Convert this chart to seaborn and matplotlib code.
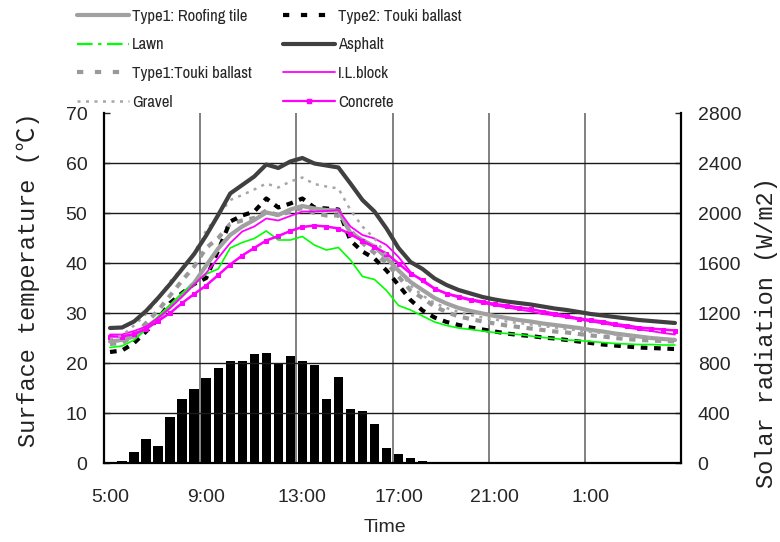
import matplotlib
matplotlib.use("Agg")
import matplotlib.pyplot as plt
from matplotlib.lines import Line2D
from matplotlib import font_manager
import numpy as np
import pandas as pd
import seaborn as sns

# ---------------- data ----------------
times = [f"{(5 + k // 2) % 24}:{'00' if k % 2 == 0 else '30'}" for k in range(48)]
tick_labels = ["5:00", "9:00", "13:00", "17:00", "21:00", "1:00"]

solar = [0, 15, 85, 190, 133, 365, 510, 590, 677, 757, 813, 813, 869, 877, 795, 853,
         813, 784, 509, 685, 429, 413, 309, 122, 72, 40, 19, 0, 0, 0, 0, 0,
         0, 0, 0, 0, 0, 0, 0, 0, 0, 0, 0, 0, 0, 0, 0, 0]

roofing_tile = [24.3, 24.6, 25.3, 27.1, 28.9, 31.3, 33.6, 36.0, 39.5, 42.9, 45.6, 47.3,
                48.6, 50.1, 49.6, 50.7, 51.4, 50.9, 50.6, 50.5, 46.0, 44.6, 43.3, 41.0,
                38.5, 36.2, 34.6, 33.0, 31.9, 31.0, 30.4, 29.9, 29.4, 29.0, 28.6, 28.3,
                27.9, 27.6, 27.3, 27.0, 26.6, 26.3, 25.9, 25.6, 25.3, 25.0, 24.8, 24.6]

type2_touki = [22.2, 22.5, 24.0, 26.3, 28.8, 32.0, 34.0, 35.8, 37.0, 42.5, 48.3, 49.5,
               50.3, 52.9, 51.1, 51.9, 52.9, 51.1, 50.9, 50.7, 44.5, 42.3, 40.9, 38.5,
               35.6, 32.6, 30.5, 29.1, 28.2, 27.6, 27.1, 26.7, 26.3, 25.9, 25.6, 25.4,
               25.1, 24.9, 24.6, 24.3, 24.0, 23.7, 23.5, 23.3, 23.1, 23.0, 22.9, 22.8]

lawn = [23.1, 23.4, 24.6, 26.7, 29.3, 31.6, 34.0, 35.8, 37.8, 38.8, 43.0, 44.1,
        44.9, 46.4, 44.6, 44.6, 45.3, 43.6, 42.6, 43.1, 40.6, 37.3, 36.7, 34.5,
        31.5, 30.6, 29.4, 28.2, 27.5, 27.0, 26.7, 26.4, 26.1, 25.9, 25.7, 25.4,
        25.1, 24.9, 24.6, 24.5, 24.3, 24.1, 23.9, 23.8, 23.7, 23.7, 23.6, 23.6]

asphalt = [27.0, 27.1, 28.3, 30.4, 33.0, 35.8, 38.8, 41.8, 45.5, 49.6, 53.9, 55.6,
           57.3, 59.7, 59.0, 60.3, 61.0, 59.9, 59.5, 59.1, 55.9, 52.6, 50.3, 46.9,
           43.0, 40.2, 38.8, 36.9, 35.6, 34.6, 33.9, 33.2, 32.7, 32.3, 32.0, 31.7,
           31.3, 30.9, 30.6, 30.2, 29.8, 29.5, 29.2, 28.9, 28.6, 28.4, 28.2, 28.0]

type1_touki = [23.8, 24.0, 25.5, 28.0, 30.5, 33.5, 36.5, 39.3, 43.0, 45.0, 47.8, 48.5,
               49.0, 50.5, 49.5, 50.3, 51.0, 50.0, 49.5, 49.5, 46.5, 44.0, 42.0, 40.0,
               37.3, 34.5, 33.0, 31.3, 30.2, 29.3, 28.8, 28.3, 27.9, 27.5, 27.2, 26.9,
               26.6, 26.3, 26.1, 25.8, 25.5, 25.3, 25.0, 24.8, 24.6, 24.5, 24.4, 24.3]

il_block = [25.7, 25.7, 26.4, 27.3, 29.0, 31.0, 33.3, 35.7, 38.0, 41.0, 44.0, 46.3,
            47.3, 48.9, 48.5, 49.4, 50.3, 50.3, 50.4, 50.6, 47.3, 45.6, 44.9, 43.6,
            41.2, 38.2, 36.3, 34.8, 33.8, 33.1, 32.5, 32.0, 31.5, 31.1, 30.7, 30.3,
            29.8, 29.5, 29.1, 28.7, 28.3, 27.9, 27.5, 27.1, 26.7, 26.4, 26.0, 25.7]

gravel = [24.8, 25.5, 27.5, 29.8, 32.8, 36.3, 39.0, 42.0, 46.5, 49.5, 52.6, 53.6,
          54.7, 55.9, 55.1, 56.3, 57.1, 55.8, 55.3, 54.9, 50.6, 47.3, 44.9, 41.5,
          38.5, 35.5, 33.5, 32.0, 31.0, 30.2, 29.6, 29.1, 28.7, 28.3, 28.0, 27.7,
          27.4, 27.1, 26.8, 26.5, 26.2, 26.0, 25.7, 25.5, 25.3, 25.1, 24.9, 24.8]

concrete = [25.3, 25.3, 25.8, 26.8, 28.4, 30.0, 32.0, 33.8, 35.5, 37.6, 39.7, 41.5,
            43.0, 44.5, 45.4, 46.4, 47.2, 47.5, 47.3, 46.9, 45.8, 44.4, 43.2, 41.9,
            39.9, 37.9, 36.6, 34.9, 33.9, 33.3, 32.7, 32.3, 31.8, 31.5, 31.1, 30.8,
            30.3, 29.9, 29.4, 28.9, 28.6, 28.3, 27.8, 27.5, 27.1, 26.9, 26.7, 26.5]

# ---------------- style ----------------
sns.set_style("white")
sans = "Liberation Sans"
plt.rcParams["font.family"] = [sans, "DejaVu Sans"]

# look for an Arial-Narrow-like font for the legend
narrow_path = None
for f in font_manager.fontManager.ttflist:
    nm = f.name.lower()
    if "narrow" in nm and f.style == "normal" and f.weight in (400, "normal", "regular"):
        narrow_path = f.fname
        break

W, H = 780, 542
fig = plt.figure(figsize=(W / 100, H / 100), dpi=100)
L, R, T, B = 104, 681, 113, 463
ax = fig.add_axes([L / W, 1 - B / H, (R - L) / W, (B - T) / H])
ax2 = ax.twinx()

idx = np.arange(len(times))
df = pd.DataFrame({"idx": idx, "time": times, "solar": solar})

# bars (solar radiation, right axis)
sns.barplot(data=df, x="idx", y="solar", ax=ax2, color="black", width=0.78,
            saturation=1, native_scale=True, edgecolor="none", linewidth=0)

ax.set_zorder(ax2.get_zorder() + 1)
ax.patch.set_visible(False)

series = [
    (type1_touki, dict(color="#999999", lw=3.0, ls=(0, (1.5, 1.6)))),
    (type2_touki, dict(color="black", lw=3.0, ls=(0, (1.6, 1.6)))),
    (roofing_tile, dict(color="#a0a0a0", lw=3.0, ls="-")),
    (lawn, dict(color="#00ff00", lw=1.2, ls="-")),
    (concrete, dict(color="#ff00ff", lw=1.8, ls="-", marker="s", ms=3.4, mec="#ff00ff")),
    (il_block, dict(color="#ff00ff", lw=1.3, ls="-")),
    (gravel, dict(color="#a6a6a6", lw=1.8, ls=(0, (1.2, 2.2)))),
    (asphalt, dict(color="#404040", lw=3.0, ls="-")),
]
for vals, kw in series:
    sns.lineplot(x=idx, y=vals, ax=ax, errorbar=None, sort=False, **kw)

# axes limits / ticks
ax.set_xlim(-0.5, len(times) - 0.5)
ax2.set_xlim(-0.5, len(times) - 0.5)
ax.set_ylim(0, 70)
ax2.set_ylim(0, 2800)

tick_pos = [times.index(t) for t in tick_labels]
ax.set_xticks(tick_pos)
ax.set_xticks([p - 0.5 for p in tick_pos[1:]], minor=True)
ax.set_yticks(range(0, 71, 10))
ax2.set_yticks(range(0, 2801, 400))
for a in (ax, ax2):
    a.set_xlabel("")
    a.set_ylabel("")

ax.xaxis.grid(True, which="minor", color="#808080", lw=1.4)
ax.xaxis.grid(False, which="major")
ax.yaxis.grid(True, color="#1a1a1a", lw=1.0)
ax.get_ygridlines()[-1].set_visible(False)
ax.get_ygridlines()[0].set_visible(False)
ax2.grid(False)
ax2.xaxis.set_visible(False)

ax.tick_params(axis="x", which="both", length=0, labelbottom=False)
ax.tick_params(axis="y", direction="in", length=4, width=1, pad=12, labelsize=14, left=True)
ax2.tick_params(axis="y", direction="in", length=4, width=1, pad=12, labelsize=14, right=True)

# time labels below the axis (category-centred), placed in figure pixels
for p, lab in zip(tick_pos, tick_labels):
    xpix = L + (R - L) * (p + 0.5) / len(times)
    fig.text(xpix / W, 1 - 497 / H, lab, ha="center", va="center", fontsize=14)

for s in ["left", "bottom", "right"]:
    ax.spines[s].set_visible(True)
    ax.spines[s].set_color("black")
    ax.spines[s].set_linewidth(1.6)
ax.spines["top"].set_visible(False)
for s in ax2.spines.values():
    s.set_visible(False)

# axis titles
mono = ["Liberation Mono", "Noto Sans CJK JP", "DejaVu Sans"]
fig.text(28 / W, 1 - 280 / H, "Surface temperature (℃)", rotation=90, ha="center",
         va="center", fontsize=17, family=mono, color="#222222")
fig.text(766 / W, 1 - 333 / H, "Solar radiation (W/m2)", rotation=90, ha="center",
         va="center", fontsize=17, family=mono, color="#222222")
fig.text(385 / W, 1 - 528 / H, "Time", ha="center", va="center", fontsize=14)

# legend (two columns placed separately)
handles = [
    Line2D([], [], color="#a0a0a0", lw=3.0, ls="-"),
    Line2D([], [], color="#00ff00", lw=1.6, ls=(0, (7, 2.5, 1.5, 2.5))),
    Line2D([], [], color="#999999", lw=3.0, ls=(0, (1.5, 2.8))),
    Line2D([], [], color="#a6a6a6", lw=1.8, ls=(0, (1.2, 2.2))),
    Line2D([], [], color="black", lw=3.0, ls=(0, (1.5, 2.8))),
    Line2D([], [], color="#404040", lw=3.0, ls="-"),
    Line2D([], [], color="#ff00ff", lw=1.3, ls="-"),
    Line2D([], [], color="#ff00ff", lw=1.6, ls="-", marker="s", ms=3.5),
]
labels = ["Type1: Roofing tile", "Lawn", "Type1:Touki ballast", "Gravel",
          "Type2: Touki ballast", "Asphalt", "I.L.block", "Concrete"]

if narrow_path:
    leg_prop = font_manager.FontProperties(fname=narrow_path, size=12)
else:
    leg_prop = font_manager.FontProperties(family=sans, size=10.5)
fs_px = leg_prop.get_size_in_points() * 100 / 72
row_pitch = 28.0
for col, x0 in ((0, 77), (1, 283)):
    fig.legend(handles[col * 4:(col + 1) * 4], labels[col * 4:(col + 1) * 4],
               loc="upper left", bbox_to_anchor=(x0 / W, 1 - (16 - fs_px * 0.43) / H),
               frameon=False, handlelength=52 / fs_px, handletextpad=3 / fs_px,
               labelspacing=row_pitch / fs_px - 0.86, borderpad=0, borderaxespad=0,
               prop=leg_prop)

fig.savefig("out.png", dpi=100)
